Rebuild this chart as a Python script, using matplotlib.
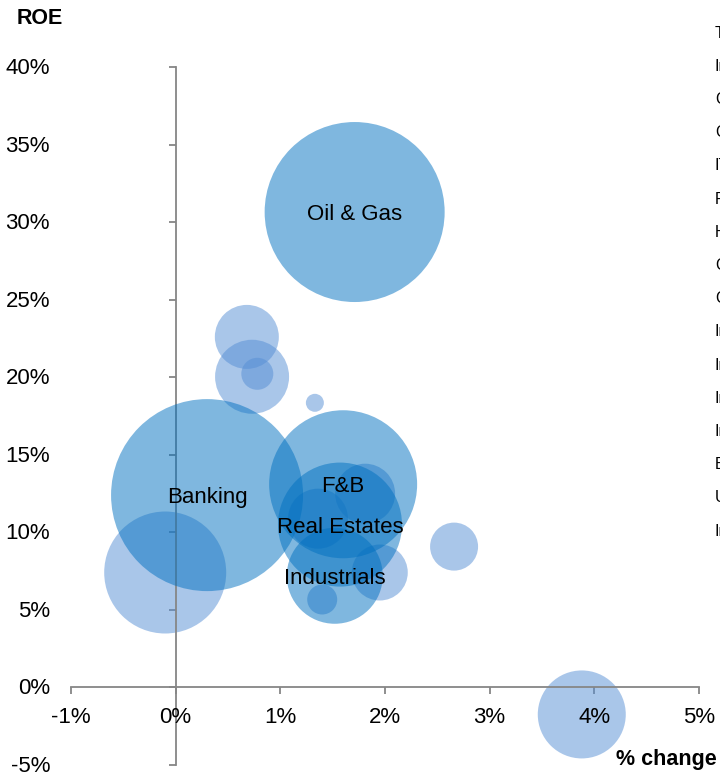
import matplotlib
matplotlib.use("Agg")
import matplotlib.pyplot as plt
import matplotlib.transforms as mtransforms
import numpy as np

plt.rcParams['font.family'] = ['Liberation Sans', 'DejaVu Sans']

# Labelled sectors (dark bubbles)
main_names = ["Oil & Gas", "Banking", "F&B", "Real Estates", "Industrials"]
main_x = [1.71, 0.30, 1.60, 1.57, 1.52]       # % change
main_y = [30.65, 12.40, 13.10, 10.50, 7.20]   # ROE %
main_size = [8100, 9216, 5476, 3844, 2304]    # bubble size (relative)

# Unlabelled sectors (light bubbles)
other_x = [0.68, 0.73, 0.78, 1.33, -0.10, 2.66, 1.95, 1.40, 3.88, 1.81, 1.36]
other_y = [22.60, 20.03, 20.22, 18.35, 7.41, 9.08, 7.41, 5.67, -1.74, 12.49, 10.88]
other_size = [1024, 1369, 256, 81, 3721, 576, 784, 225, 1936, 900, 900]

x_ticks = [-1, 0, 1, 2, 3, 4, 5]
y_ticks = [-5, 0, 5, 10, 15, 20, 25, 30, 35, 40]

side_labels = ["Total", "Insurance", "Chemicals", "Construction", "IT", "Pharma",
               "Hospitality", "Cement", "Consumer", "Infrastructure", "Internet",
               "Investment", "Import-Export", "Brokerage", "Utilities", "Insurance"]

W, H = 720, 776
fig = plt.figure(figsize=(W / 100, H / 100), dpi=100)
ax = fig.add_axes([71 / W, 11 / H, 628 / W, 698 / H])
ax.set_xlim(-1, 5)
ax.set_ylim(-5, 40)

k = 1.44 ** 2  # px radius^2 -> points^2 (diameter)
ax.scatter(other_x, other_y, s=np.array(other_size) * k, color="#558ed5",
           alpha=0.5, linewidths=0, clip_on=False, zorder=2)
ax.scatter(main_x, main_y, s=np.array(main_size) * k, color="#0070c0",
           alpha=0.5, linewidths=0, clip_on=False, zorder=3)

for n, x, y in zip(main_names, main_x, main_y):
    ax.text(x, y, n, ha="center", va="center_baseline", fontsize=16,
            color="black", zorder=5)

axis_col = "#868686"
for s in ["top", "right"]:
    ax.spines[s].set_visible(False)
ax.spines["left"].set_position(("data", 0))
ax.spines["bottom"].set_position(("data", 0))
ax.spines["left"].set_color(axis_col)
ax.spines["bottom"].set_color(axis_col)
ax.spines["left"].set_linewidth(1.3)
ax.spines["bottom"].set_linewidth(1.3)
ax.set_xticks(x_ticks)
ax.set_yticks(y_ticks)
ax.tick_params(axis="both", length=5, width=1.3, color=axis_col,
               labelleft=False, labelbottom=False, direction="out")

# tick labels in Excel "low" position
ytr = ax.get_yaxis_transform() + mtransforms.ScaledTranslation(0, -1.5 / 100, fig.dpi_scale_trans)
for t in y_ticks:
    ax.text((50 - 71) / 628, t, f"{t}%", transform=ytr,
            ha="right", va="center", fontsize=16)
for t in x_ticks:
    ax.text(t, -1.75, f"{t}%", ha="center", va="center_baseline", fontsize=16)

fig.text(40 / W, 1 - 18 / H, "ROE", ha="center", va="center",
         fontsize=15.5, fontweight="bold")
fig.text(666 / W, 1 - 759 / H, "% change", ha="center", va="center",
         fontsize=15.5, fontweight="bold")

for i, lab in enumerate(side_labels):
    fig.text(715 / W, 1 - (33 + i * 33.2) / H, lab, ha="left", va="center",
             fontsize=11.5)

fig.savefig("out.png", dpi=100)
